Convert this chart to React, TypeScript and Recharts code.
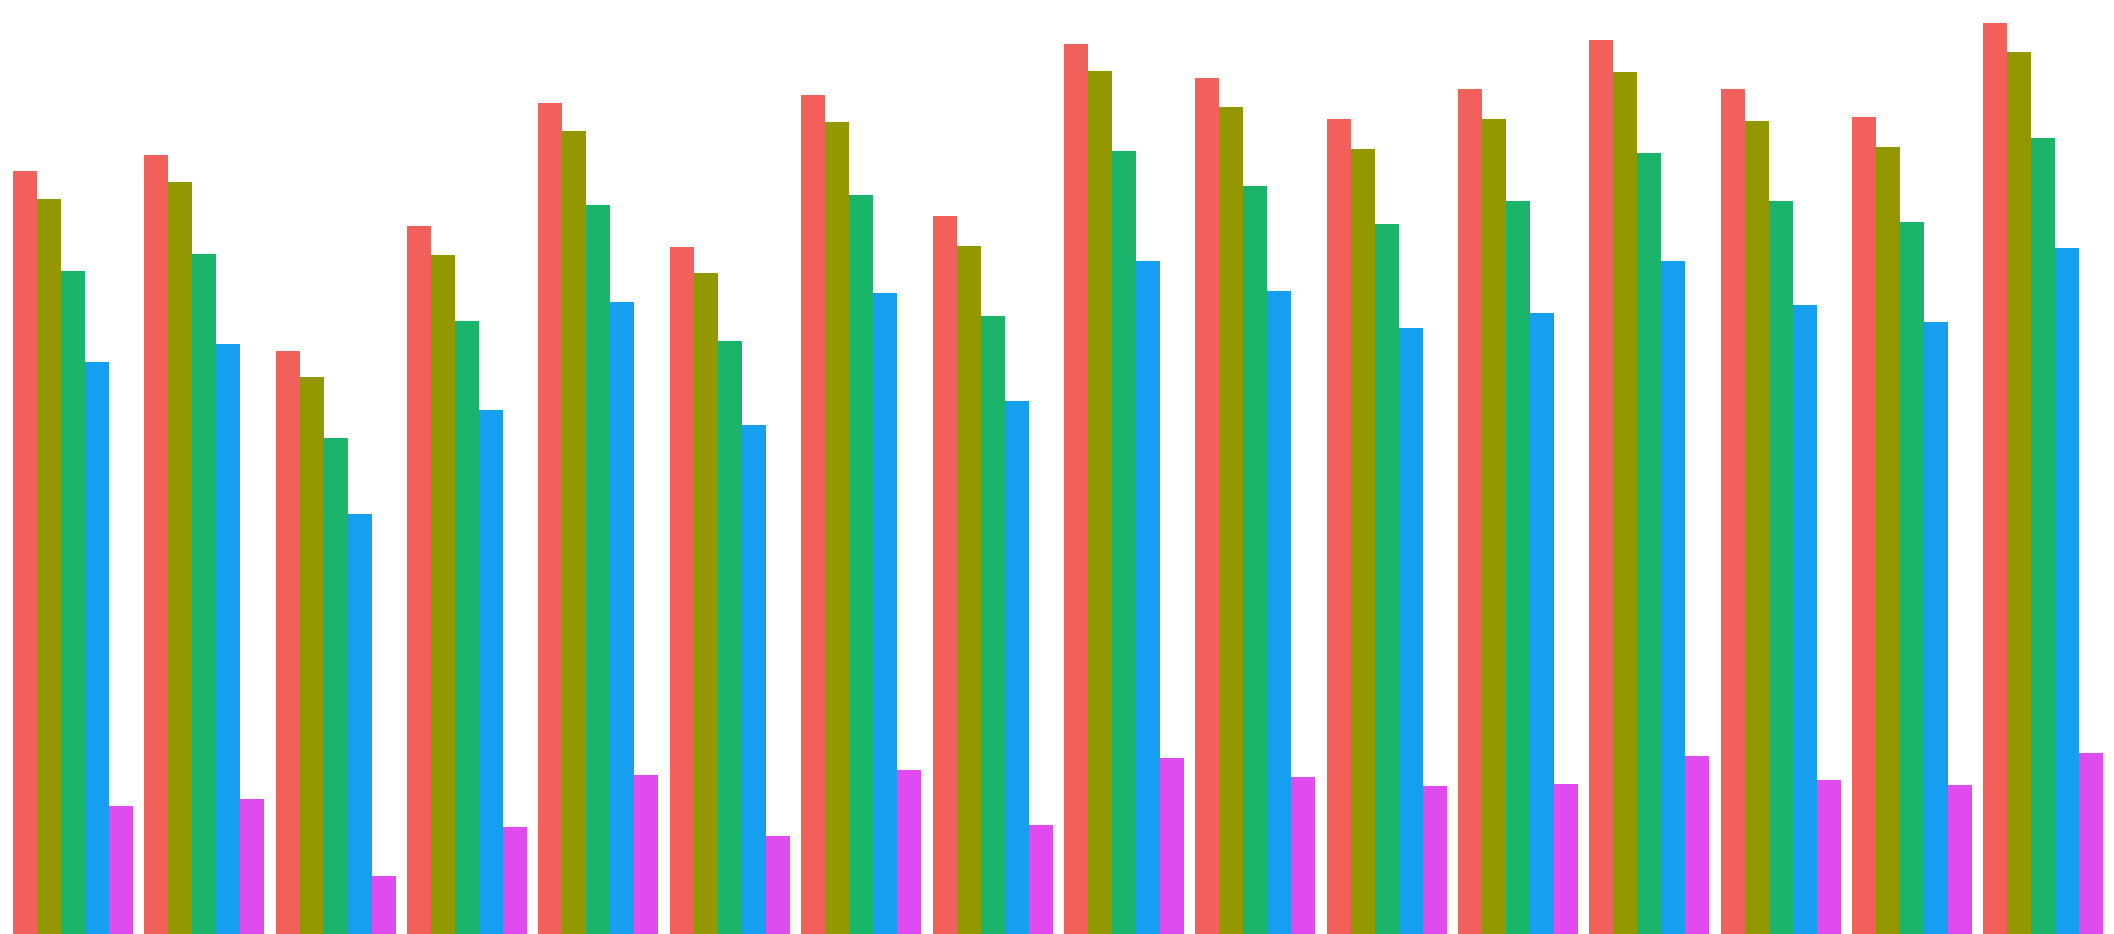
import React from "react";
import { BarChart, Bar, XAxis, YAxis } from "recharts";

const categories = ["1","2","3","4","5","6","7","8","9","10","11","12","13","14","15","16"];
const seriesA = [566.1,577.9,432.6,525.2,616.5,509.6,622.5,532.7,660.4,635.1,604.7,627.0,663.2,627.3,606.3,675.8];
const seriesB = [545.3,558.0,413.3,503.9,595.7,490.3,602.4,510.4,640.3,613.5,582.4,604.7,639.9,603.3,583.8,654.1];
const seriesC = [491.8,504.6,367.9,454.7,541.0,439.9,548.3,458.5,580.9,555.0,526.7,543.7,579.3,544.2,528.5,590.7];
const seriesD = [424.4,437.6,311.5,388.7,469.0,377.7,475.5,395.5,499.4,477.0,449.7,460.7,499.4,466.6,454.4,509.0];
const seriesE = [94.9,100.1,43.0,79.4,117.9,72.7,121.7,80.8,130.6,116.5,109.8,111.3,132.0,114.2,110.5,134.3];

const data = categories.map((c, i) => ({
  name: c,
  a: seriesA[i],
  b: seriesB[i],
  c: seriesC[i],
  d: seriesD[i],
  e: seriesE[i],
}));

export default function App() {
  return (
    <div style={{ position: "absolute", left: 0, top: 0, width: 2114, height: 934, background: "#fff" }}>
      <BarChart
        width={2114}
        height={934}
        data={data}
        margin={{ top: 0, right: 5.6, bottom: 0, left: 6.6 }}
        barCategoryGap="4.9%"
        barGap={0}
      >
        <XAxis dataKey="name" hide />
        <YAxis hide domain={[0, 693]} />
        <Bar dataKey="a" fill="#F2605B" shapeRendering="crispEdges" isAnimationActive={false} />
        <Bar dataKey="b" fill="#939700" shapeRendering="crispEdges" isAnimationActive={false} />
        <Bar dataKey="c" fill="#1AB56B" shapeRendering="crispEdges" isAnimationActive={false} />
        <Bar dataKey="d" fill="#169FF0" shapeRendering="crispEdges" isAnimationActive={false} />
        <Bar dataKey="e" fill="#DF4BEF" shapeRendering="crispEdges" isAnimationActive={false} />
      </BarChart>
    </div>
  );
}
